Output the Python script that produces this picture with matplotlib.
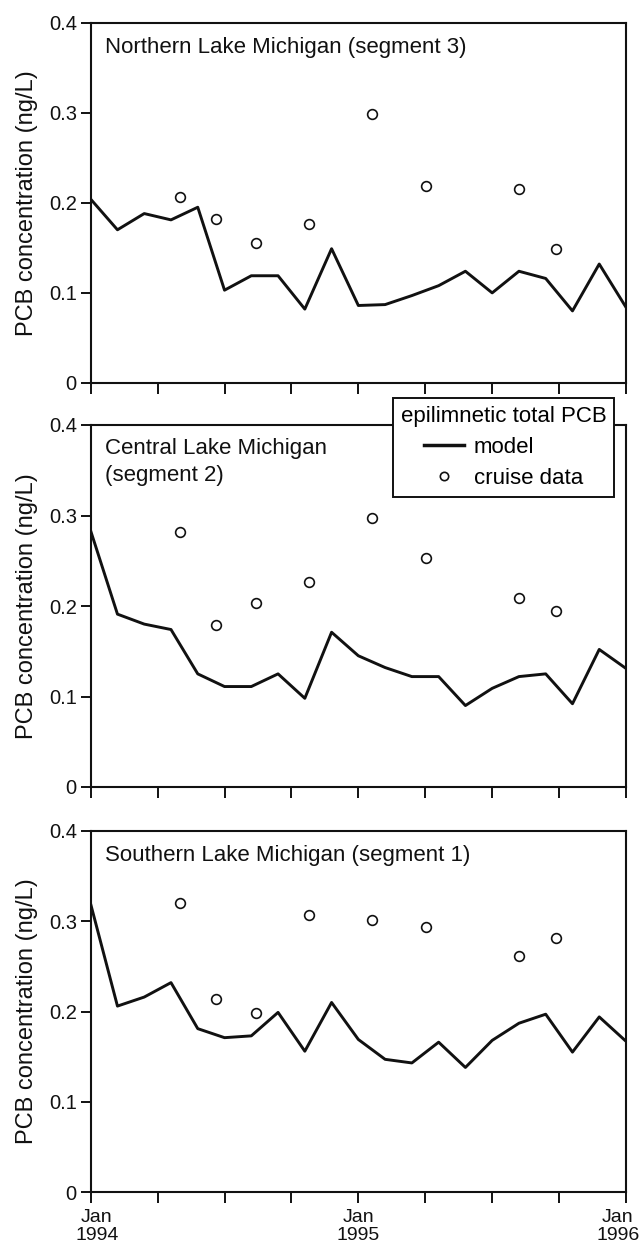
import matplotlib.pyplot as plt
import matplotlib.transforms as mtransforms
from matplotlib.lines import Line2D

plt.rcParams['font.family'] = ['Liberation Sans', 'DejaVu Sans']

# months since Jan 1994
model_months = [0, 1.2, 2.4, 3.6, 4.8, 6.0, 7.2, 8.4, 9.6, 10.8, 12.0,
                13.2, 14.4, 15.6, 16.8, 18.0, 19.2, 20.4, 21.6, 22.8, 24.0]
cruise_months = [3.99, 5.63, 7.41, 9.8, 12.59, 15.04, 19.21, 20.85]

# segment 3 (northern)
north_model = [0.204, 0.170, 0.188, 0.181, 0.195, 0.103, 0.119, 0.119, 0.082, 0.149, 0.086,
               0.087, 0.097, 0.108, 0.124, 0.100, 0.124, 0.116, 0.080, 0.132, 0.084]
north_cruise = [0.206, 0.182, 0.155, 0.176, 0.299, 0.219, 0.215, 0.149]

# segment 2 (central)
central_model = [0.283, 0.191, 0.180, 0.174, 0.125, 0.111, 0.111, 0.125, 0.098, 0.171, 0.145,
                 0.132, 0.122, 0.122, 0.090, 0.109, 0.122, 0.125, 0.092, 0.152, 0.131]
central_cruise = [0.282, 0.179, 0.203, 0.226, 0.297, 0.253, 0.209, 0.195]

# segment 1 (southern)
south_model = [0.319, 0.206, 0.216, 0.232, 0.181, 0.171, 0.173, 0.199, 0.156, 0.210, 0.169,
               0.147, 0.143, 0.166, 0.138, 0.168, 0.187, 0.197, 0.155, 0.194, 0.167]
south_cruise = [0.320, 0.214, 0.198, 0.307, 0.301, 0.294, 0.261, 0.281]

panel_titles = ['Northern Lake Michigan (segment 3)',
                'Central Lake Michigan\n(segment 2)',
                'Southern Lake Michigan (segment 1)']
x_ticks = [0, 3, 6, 9, 12, 15, 18, 21, 24]
x_labels = ['Jan\n1994', '', '', '', 'Jan\n1995', '', '', '', 'Jan\n1996']
y_ticks = [0, 0.1, 0.2, 0.3, 0.4]
y_labels = ['0', '0.1', '0.2', '0.3', '0.4']

fig = plt.figure(figsize=(6.44, 12.49), dpi=100)
W, H = 644, 1249
left, right = 90.7, 626
panel_px = [(22.5, 383), (425, 787), (831, 1192)]
title_y_px = [48, 462, 855]

models = [north_model, central_model, south_model]
cruises = [north_cruise, central_cruise, south_cruise]
ink = '#111111'

for i, (top, bot) in enumerate(panel_px):
    ax = fig.add_axes([left / W, 1 - bot / H, (right - left) / W, (bot - top) / H])
    ax.plot(model_months, models[i], color=ink, lw=2.1)
    ax.plot(cruise_months, cruises[i], 'o', mfc='none', mec=ink, ms=7, mew=1.2)
    ax.set_xlim(0, 24)
    ax.set_ylim(0, 0.4)
    ax.set_yticks(y_ticks)
    ax.set_yticklabels(y_labels)
    ax.set_xticks(x_ticks)
    if i == 2:
        ax.set_xticklabels(x_labels, linespacing=1.1)
    else:
        ax.set_xticklabels([])
    ax.tick_params(axis='y', direction='out', length=7, width=1.4, labelsize=14.5,
                   pad=3, colors=ink)
    ax.tick_params(axis='x', direction='out', length=8, width=1.4, labelsize=14,
                   pad=4, colors=ink)
    for s in ax.spines.values():
        s.set_linewidth(1.5)
        s.set_color(ink)
    ax.set_ylabel('PCB concentration (ng/L)', fontsize=17, color=ink)
    ax.yaxis.set_label_coords((38 - left) / (right - left), 0.5)
    ax.text(0.027, (bot - title_y_px[i]) / (bot - top), panel_titles[i],
            transform=ax.transAxes, color=ink, fontsize=16, va='center', ha='left',
            linespacing=1.35)

    if i == 2:
        # nudge the end labels like the original figure
        lbls = ax.get_xticklabels()
        lbls[0].set_transform(lbls[0].get_transform() +
                              mtransforms.ScaledTranslation(6 / 100, 0, fig.dpi_scale_trans))
        lbls[-1].set_transform(lbls[-1].get_transform() +
                               mtransforms.ScaledTranslation(-8 / 100, 0, fig.dpi_scale_trans))

    if i == 1:
        handles = [Line2D([], [], color=ink, lw=2.5),
                   Line2D([], [], ls='none', marker='o', mfc='none', mec=ink, ms=6, mew=1.2)]
        leg = ax.legend(handles, ['model', 'cruise data'], title='epilimnetic total PCB',
                        loc='upper left',
                        bbox_to_anchor=((393 - left) / (right - left), (bot - 398) / (bot - top)),
                        borderaxespad=0, fontsize=16, title_fontsize=16, frameon=True,
                        fancybox=False, edgecolor=ink, framealpha=1, handlelength=1.8,
                        borderpad=0.35, labelspacing=0.45, handletextpad=0.45)
        leg.get_frame().set_linewidth(1.4)
        leg.set_zorder(5)

fig.savefig('out.png', dpi=100)
